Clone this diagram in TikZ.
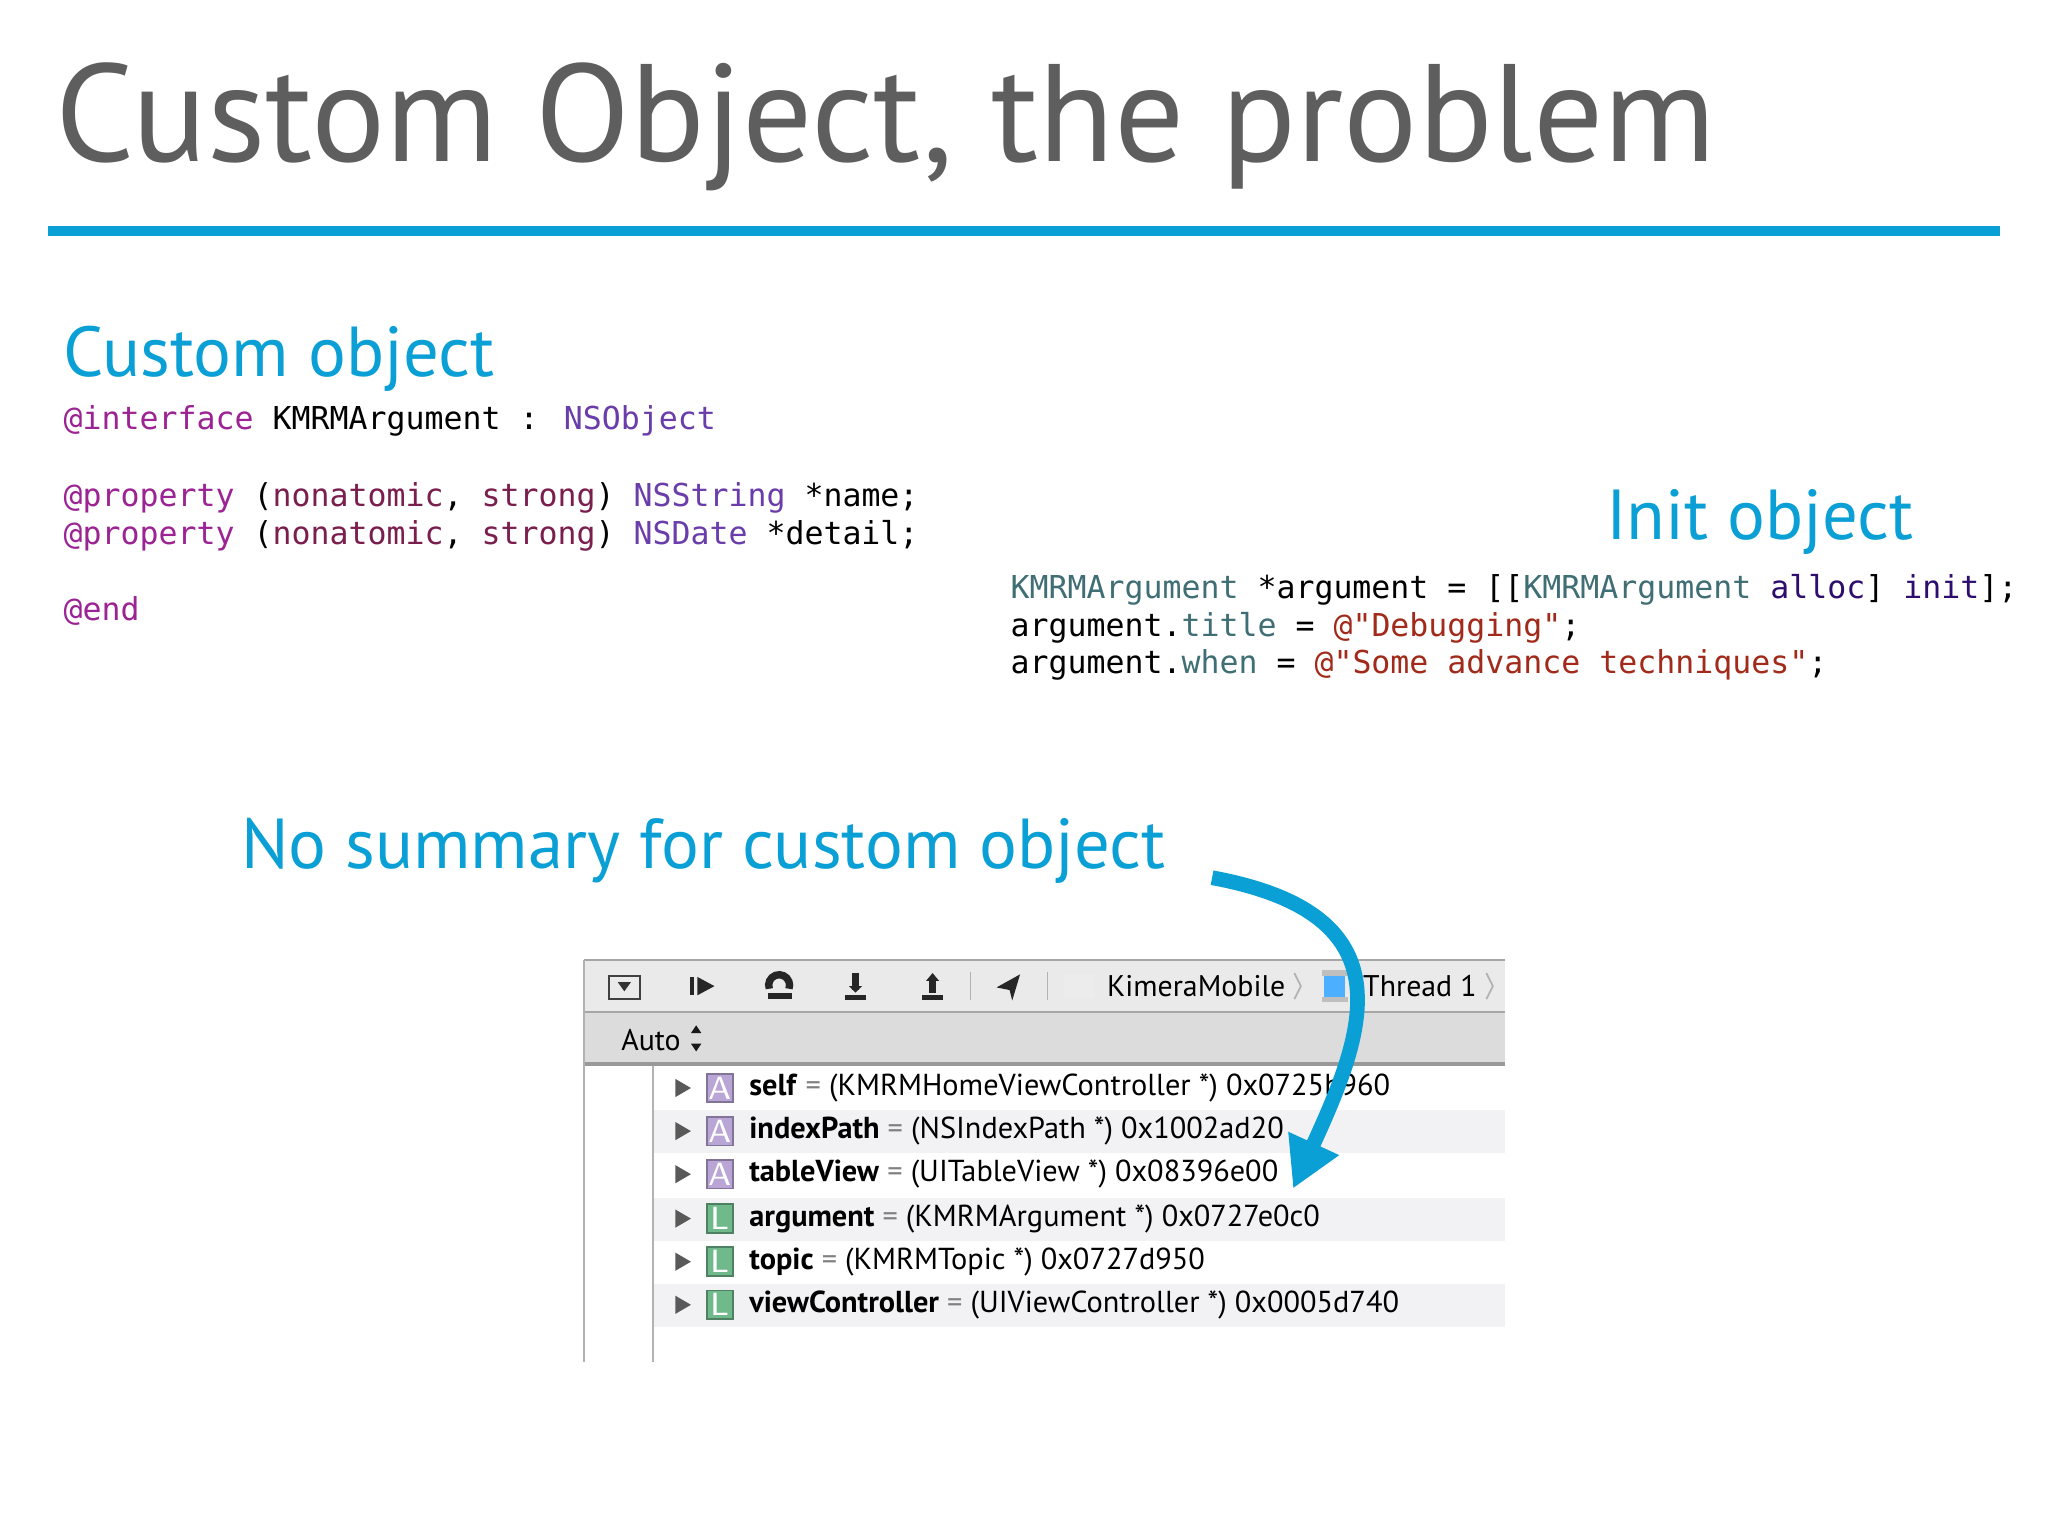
\documentclass[tikz,border=0pt]{standalone}
\usepackage{fontspec}
\setmainfont{PT Sans}
\newfontfamily\codefont{DejaVu Sans Mono}
\newfontfamily\uifont{PT Sans}
\usetikzlibrary{arrows.meta}
\definecolor{slideblue}{HTML}{0AA0D6}
\definecolor{titlegray}{HTML}{5E5E5E}
\definecolor{kw}{HTML}{9B2393}
\definecolor{attr}{HTML}{7A1E4E}
\definecolor{cls}{HTML}{6A3DAA}
\definecolor{teal}{HTML}{3F6E74}
\definecolor{meth}{HTML}{2E0D6E}
\definecolor{str}{HTML}{A12A1A}
\definecolor{tbgray}{HTML}{DCDCDC}
\definecolor{rowgray}{HTML}{F2F2F4}
\definecolor{aicon}{HTML}{B9A6D6}
\definecolor{licon}{HTML}{6FB98A}
\tikzset{x=0.01cm,y=-0.01cm,
 code/.style={anchor=base west,inner sep=0,font=\codefont\fontsize{6.87pt}{8pt}\selectfont},
 head/.style={anchor=base west,inner sep=0,text=slideblue,font=\fontsize{15.4pt}{18pt}\selectfont},
 row/.style={anchor=west,inner sep=0,font=\uifont\fontsize{6.6pt}{8pt}\selectfont},
 tb/.style={anchor=west,inner sep=0,font=\uifont\fontsize{6.5pt}{8pt}\selectfont},
 icon/.style={draw=#1!70!black,fill=#1,minimum width=0.2cm,minimum height=0.22cm,inner sep=0,text=white,font=\sffamily\fontsize{7pt}{7pt}\selectfont}}
\begin{document}
\begin{tikzpicture}
\fill[white] (0,0) rectangle (1568,1176);
\useasboundingbox (0,0) rectangle (1568,1176);
\node[anchor=base west,inner sep=0,text=titlegray,font=\fontsize{30.2pt}{34pt}\selectfont] (title) at (42,124) {Custom Object, the problem};
\fill[slideblue] (37,173) rectangle (1531,181);
\node[head] (h1) at (48,288) {Custom object};
\node[code] (c1) at (48,329) {\textcolor{kw}{@interface} KMRMArgument : \textcolor{cls}{NSObject}};
\node[code] (c2) at (48,388) {\textcolor{kw}{@property} (\textcolor{attr}{nonatomic}, \textcolor{attr}{strong}) \textcolor{cls}{NSString} *name;};
\node[code] (c3) at (48,417) {\textcolor{kw}{@property} (\textcolor{attr}{nonatomic}, \textcolor{attr}{strong}) \textcolor{cls}{NSDate} *detail;};
\node[code] (c4) at (48,475) {\textcolor{kw}{@end}};
\node[head] (h2) at (1229,413) {Init object};
\node[code] (i1) at (773,458) {\textcolor{teal}{KMRMArgument} *argument = [[\textcolor{teal}{KMRMArgument} \textcolor{meth}{alloc}] \textcolor{meth}{init}];};
\node[code] (i2) at (773,487) {argument.\textcolor{teal}{title} = \textcolor{str}{@"Debugging"};};
\node[code] (i3) at (773,516) {argument.\textcolor{teal}{when} = \textcolor{str}{@"Some advance techniques"};};
\node[head] (h3) at (184,665) {No summary for custom object};
% panel
\fill[tbgray!60] (447,735) rectangle (1152,775);
\fill[tbgray] (447,775) rectangle (1152,815);
\draw[gray!70] (447,775) -- (1152,775);
\draw[gray!80,line width=1pt] (447,815) -- (1152,815);
\draw[gray!70] (447,735) -- (1152,735);
\fill[white] (447,816) rectangle (1152,1043);
\fill[rowgray] (500,850) rectangle (1152,883);
\fill[rowgray] (500,917) rectangle (1152,950);
\fill[rowgray] (500,983) rectangle (1152,1016);
\draw[gray!60] (447,735) -- (447,1043);
\draw[gray!60] (500,816) -- (500,1043);
% toolbar icons
\draw[gray!50!black] (466,747) rectangle (490,765);
\fill[gray!40!black] (473,752) -- (483,752) -- (478,759) -- cycle;
\fill[gray!30!black] (528,748) rectangle (531,762);
\fill[gray!30!black] (534,748) -- (547,755) -- (534,762) -- cycle;
\draw[gray!30!black,line width=1.6pt] (589,757) arc[start angle=160,end angle=380,radius=8];
\fill[gray!30!black] (588,760) rectangle (606,765);
\draw[gray!30!black,line width=1.6pt] (655,745) -- (655,758);
\fill[gray!30!black] (650,755) -- (660,755) -- (655,760) -- cycle;
\fill[gray!30!black] (647,762) rectangle (663,766);
\draw[gray!30!black,line width=1.6pt] (714,748) -- (714,760);
\fill[gray!30!black] (709,751) -- (719,751) -- (714,745) -- cycle;
\fill[gray!30!black] (706,762) rectangle (722,766);
\draw[gray!60] (743,744) -- (743,766);
\fill[gray!30!black] (763,756) -- (781,746) -- (775,766) -- (773,758) -- cycle;
\draw[gray!60] (802,744) -- (802,766);
\fill[gray!15] (815,746) rectangle (838,764);
\node[tb] (km) at (847,755) {KimeraMobile};
\draw[gray!60] (991,745) -- (996,755) -- (991,765);
\fill[blue!45!cyan!70] (1014,745) rectangle (1030,765);
\fill[gray!50] (1012,743) rectangle (1032,747);
\fill[gray!50] (1012,763) rectangle (1032,767);
\node[tb] (th) at (1043,755) {Thread 1};
\draw[gray!60] (1138,745) -- (1143,755) -- (1138,765);
\node[tb] (auto) at (475,796) {Auto};
\fill[gray!20!black] (529,791) -- (537,791) -- (533,785) -- cycle;
\fill[gray!20!black] (529,799) -- (537,799) -- (533,805) -- cycle;
% rows
\foreach \yy/\nm/\rest [count=\k] in {
 833/self/{(KMRMHomeViewController *) 0x0725b960},
 866/indexPath/{(NSIndexPath *) 0x1002ad20},
 899/tableView/{(UITableView *) 0x08396e00},
 933/argument/{(KMRMArgument *) 0x0727e0c0},
 966/topic/{(KMRMTopic *) 0x0727d950},
 999/viewController/{(UIViewController *) 0x0005d740}}{
 \fill[gray!70!black] (517,\yy-7) -- (529,\yy) -- (517,\yy+7) -- cycle;
 \ifnum\k<4 \node[icon=aicon] (ic\k) at (551,\yy) {A};\else\node[icon=licon] (ic\k) at (551,\yy) {L};\fi
 \node[row] (r\k) at (573,\yy) {\textbf{\nm} {\color{gray}=} \rest};
}
% arrow
\coordinate (as) at (928,672);
\coordinate (ae) at (990,910);
\draw[slideblue,line width=3.2pt,-{Triangle[length=0.38cm,width=0.4cm]}] (as) .. controls (1080,700) and (1045,790) .. (ae);
\end{tikzpicture}
\end{document}
